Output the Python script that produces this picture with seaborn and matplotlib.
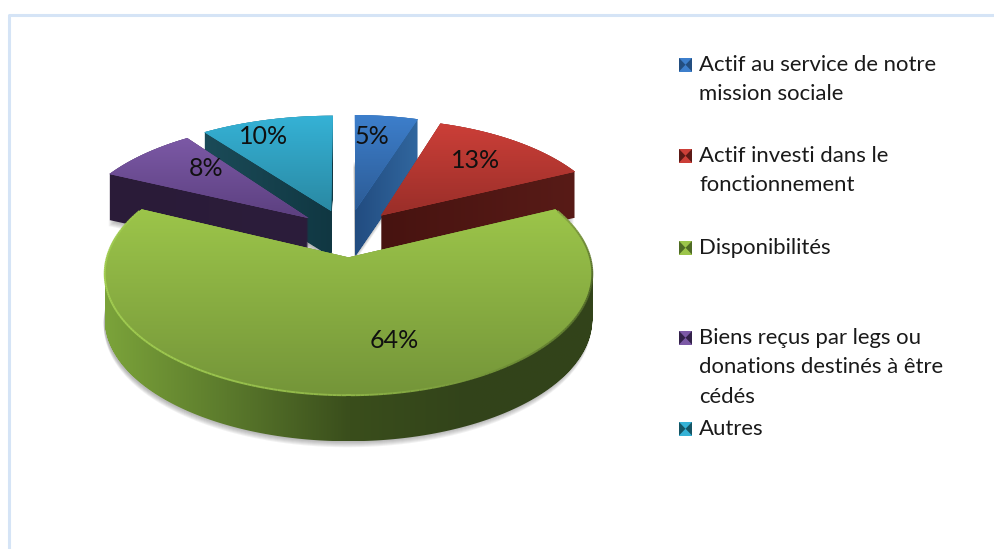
#! /usr/bin/env python
"""
Exploded perspective pie of asset shares, with legend on the right
"""

import numpy as np
import seaborn as sns
import matplotlib.pyplot as plt
from matplotlib.collections import LineCollection
from matplotlib.path import Path
from matplotlib.patches import Polygon, Rectangle
from matplotlib.transforms import Affine2D, Transform

CATEGORIES = [
    "Actif au service de notre\nmission sociale",
    "Actif investi dans le\nfonctionnement",
    "Disponibilités",
    "Biens reçus par legs ou\ndonations destinés à être\ncédés",
    "Autres",
]
SHARES = [5, 13, 64, 8, 10]

TOP_COLORS = [
    ("#3d7fcc", "#2c5b95"),
    ("#cc3f38", "#992e29"),
    ("#9cc54a", "#749539"),
    ("#7c59a6", "#5c4080"),
    ("#35b2d6", "#2a89a3"),
]
SIDE_COLORS = [
    ("#224c80", "#31679f"),
    ("#471310", "#581b17"),
    ("#7ba33a", "#5b7a2c", "#3a4e1c", "#32431a", "#33441a"),
    ("#2a1b38", "#2c1d3b"),
    ("#1b4b58", "#103742"),
]
SWATCH_DARK = ["#234e80", "#5c1a16", "#4f6b25", "#33224a", "#155565"]
DRAW_ORDER = [4, 3, 0, 1, 2]

# projection of the pie plane to pixels
X0, Y0, RX, RY, PERSP = 349, 233, 235, 113, 0.13
EXPLODE = 0.21
DEPTH = 46
# small per slice correction: pixel shift and horizontal stretch about the apex
NUDGE = [(-1, 1.0), (0, 0.99), (-0.5, 1.0), (-3, 1.015), (-3, 1.05)]

LABEL_XY = [(372, 137), (476, 160), (394, 341), (206, 169), (264, 137)]
LEGEND_Y = [65, 156, 248, 338, 429]
LINE_STEP = 29.4


class Perspective(Transform):
    input_dims = 2
    output_dims = 2
    is_separable = False
    has_inverse = False

    def transform_non_affine(self, values):
        values = np.asarray(values, dtype=float)
        w = 1 + PERSP * values[:, 1]
        return np.column_stack(
            [X0 + RX * values[:, 0] / w, Y0 - RY * values[:, 1] / w]
        )

    def transform_path_non_affine(self, path):
        # flatten at a large scale so that the curves stay smooth
        polys = path.transformed(Affine2D().scale(2000)).to_polygons()
        return Path.make_compound_path(
            *[Path(self.transform_non_affine(p / 2000), closed=True) for p in polys]
        )


def draw_slice(ax, idx):
    """Draws the pie and keeps only one of its wedges"""
    wedges = ax.pie(
        SHARES, startangle=90, counterclock=False, explode=[EXPLODE] * len(SHARES),
        wedgeprops={"linewidth": 0},
    )[0]
    for i, wedge in enumerate(wedges):
        if i != idx:
            wedge.remove()
    return wedges[idx]


def gradient_image(ax, path, colors, vertical, zorder):
    cmap = sns.blend_palette(colors, n_colors=128, as_cmap=True)
    left, top = path.vertices.min(axis=0)
    right, bottom = path.vertices.max(axis=0)
    ramp = np.linspace(0, 1, 256)
    ramp = ramp.reshape(-1, 1) if vertical else ramp.reshape(1, -1)
    image = ax.imshow(
        ramp, cmap=cmap, extent=(left, right, bottom, top), origin="upper",
        aspect="auto", zorder=zorder, interpolation="bilinear",
    )
    image.set_clip_path(path, transform=ax.transData)


sns.set_theme(style="white")
plt.rcParams["font.family"] = ["Lato", "DejaVu Sans"]

fig = plt.figure(figsize=(9.94, 5.49), dpi=100, facecolor="white")
ax = fig.add_axes([0, 0, 1, 1])
projection = Perspective()

for layer, idx in enumerate(DRAW_ORDER):
    base_z = 2 + layer * 2
    wedge = draw_slice(ax, idx)
    apex = projection.transform_non_affine(np.array([wedge.center]))[0]
    shift, stretch = NUDGE[idx]
    adjust = (
        Affine2D().translate(-apex[0], 0).scale(stretch, 1).translate(apex[0] + shift, 0)
    )
    wedge.set_facecolor(TOP_COLORS[idx][0])
    wedge.set_zorder(base_z + 1)
    wedge.set_transform(projection + adjust + ax.transData)
    top_path = adjust.transform_path(projection.transform_path_non_affine(wedge.get_path()))

    # soft shadow under the slice
    for extra in range(1, 7):
        shadow = draw_slice(ax, idx)
        shadow.set_facecolor("#555555")
        shadow.set_alpha(0.08)
        shadow.set_zorder(1)
        shadow.set_transform(
            projection + adjust + Affine2D().translate(-1, DEPTH + extra) + ax.transData
        )

    # the side is the top slice swept downward
    sweep = []
    for depth in range(0, DEPTH + 1):
        sweep.append(Path(top_path.vertices + [0, depth], top_path.codes))
    side_path = Path.make_compound_path(*sweep)
    gradient_image(ax, side_path, SIDE_COLORS[idx], False, base_z)
    gradient_image(ax, top_path, TOP_COLORS[idx], True, base_z + 1.5)

    if idx == 2:
        # bright rim along the front of the green slice
        angles = np.radians(np.linspace(wedge.theta1 + 1, wedge.theta2 - 1, 240))
        rim = np.column_stack(
            [wedge.center[0] + np.cos(angles), wedge.center[1] + np.sin(angles)]
        )
        rim_px = adjust.transform(projection.transform_non_affine(rim))
        segments = np.stack([rim_px[:-1], rim_px[1:]], axis=1)
        rim_colors = sns.blend_palette(
            ["#9ec94e", "#a2cd52", "#9cc74f", "#8fb548", "#6d8c35", "#4c6327", "#8aa845"],
            n_colors=len(segments),
        )
        ax.add_collection(
            LineCollection(segments, colors=rim_colors, linewidths=1.4, zorder=14)
        )

for idx, share in enumerate(SHARES):
    ax.text(
        LABEL_XY[idx][0], LABEL_XY[idx][1], f"{share}%", fontsize=18,
        color="#101010", ha="center", va="center", zorder=20,
    )

# legend entries sit at uneven heights, so they are placed one by one
for idx, label in enumerate(CATEGORIES):
    y = LEGEND_Y[idx]
    dark = SWATCH_DARK[idx]
    light = TOP_COLORS[idx][0]
    x0, x1, y0, y1 = 679, 692, y - 7, y + 6.5
    ax.add_patch(Rectangle((x0, y0), x1 - x0, y1 - y0, color=light, lw=0, zorder=20))
    mid = ((x0 + x1) / 2, (y0 + y1) / 2)
    ax.add_patch(Polygon([(x0, y0), mid, (x0, y1)], color=dark, lw=0, zorder=21))
    ax.add_patch(Polygon([(x1, y0), mid, (x1, y1)], color=dark, lw=0, zorder=21))
    for line_no, line in enumerate(label.split("\n")):
        ax.text(
            699, y + line_no * LINE_STEP, line, fontsize=15.9, color="#1a1a1a",
            ha="left", va="center", zorder=20,
        )

# chart frame, cut by the right and bottom of the picture
ax.plot([9, 9, 994], [549, 15, 15], color="#d5e4f6", lw=2.2, zorder=30)

ax.set_aspect("auto")
ax.set_xlim(0, 994)
ax.set_ylim(549, 0)
ax.axis("off")
fig.savefig("out.png", dpi=100)
